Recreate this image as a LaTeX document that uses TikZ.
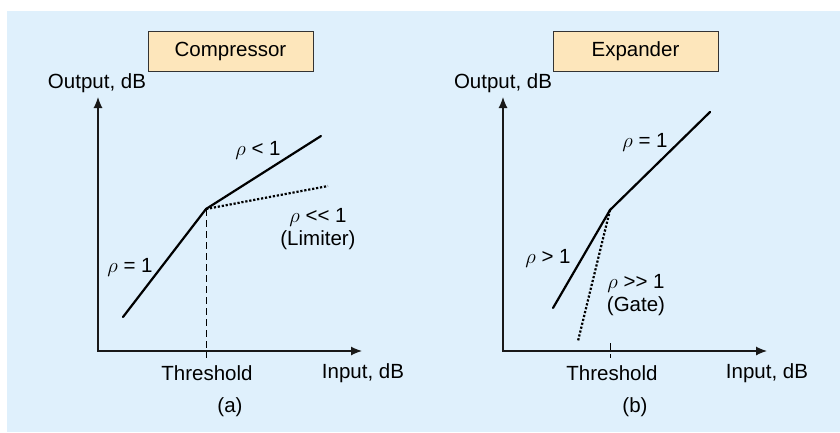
\documentclass[tikz,border=0pt]{standalone}
\usepackage{fontspec}
\setmainfont{Liberation Sans}
\usetikzlibrary{arrows.meta,positioning}
\definecolor{panelbg}{RGB}{223,240,252}
\definecolor{titlefill}{RGB}{253,230,187}
\tikzset{%
	title/.style    = {draw=black!80, fill=titlefill, line width=0.9pt, minimum width=165pt, minimum height=40pt}, % Title box
	axis/.style     = {line width=1.2pt, draw=black!90, {Latex[length=11pt,width=9pt]}-{Latex[length=11pt,width=9pt]}}, % Axes
	curve/.style    = {line width=2.2pt, line cap=round}, % Characteristic
	dots/.style     = {line width=2.2pt, dash pattern=on 2.2pt off 1.8pt}, % Dotted branch
	thresh/.style   = {line width=0.9pt, dash pattern=on 7pt off 4pt}, % Threshold mark
	lbl/.style      = {inner sep=1pt, align=center}, % Label
}
\begin{document}
\begin{tikzpicture}[x=1pt,y=-1pt,font=\fontsize{20.5}{23.5}\selectfont]
		\useasboundingbox (0,0) rectangle (840,432);
		\fill[panelbg] (7,11) rectangle (840,432);

		% (a) compressor
		\node [title] (C) at (230.5,51) {Compressor};
		\coordinate (Ya) at (98,97);
		\coordinate (Xa) at (362,351);
		\coordinate (Ka) at (206,209);
		\coordinate (La) at (123,317);
		\coordinate (Ua) at (321,136);
		\coordinate (Da) at (328,186);
		\coordinate (Ta) at (206,358);
		\draw[axis] (Ya) |- (Xa);
		\draw[curve] (La) -- (Ka) -- (Ua);
		\draw[dots] (Ka) -- (Da);
		\draw[thresh] (Ka) -- (Ta);
		\node [lbl] (oa) at (97,83) {Output, dB};
		\node [lbl] (ia) at (363,373) {Input, dB};
		\node [lbl] (ta) at (207,373) {Threshold};
		\node [lbl] (na) at (230,407) {(a)};
		\node [lbl] (r1a) at (130,267) {$\rho$ = 1};
		\node [lbl] (r2a) at (258,150) {$\rho$ < 1};
		\node [lbl] (r3a) at (318,229) {$\rho$ <{}< 1\\(Limiter)};

		% (b) expander
		\node [title] (E) at (635.5,51) {Expander};
		\coordinate (Yb) at (503,97);
		\coordinate (Xb) at (767,351);
		\coordinate (Kb) at (610,210);
		\coordinate (Lb) at (553,308);
		\coordinate (Ub) at (710,112);
		\coordinate (Db) at (578,341);
		\coordinate (Sb) at (610,343);
		\coordinate (Tb) at (610,358);
		\draw[axis] (Yb) |- (Xb);
		\draw[curve] (Lb) -- (Kb) -- (Ub);
		\draw[dots] (Kb) -- (Db);
		\draw[thresh] (Sb) -- (Tb);
		\node [lbl] (ob) at (503,83) {Output, dB};
		\node [lbl] (ib) at (767,373) {Input, dB};
		\node [lbl] (tb) at (612,373) {Threshold};
		\node [lbl] (nb) at (635,407) {(b)};
		\node [lbl] (r1b) at (645,142) {$\rho$ = 1};
		\node [lbl] (r2b) at (548,258) {$\rho$ > 1};
		\node [lbl] (r3b) at (636,295) {$\rho$ >{}> 1\\(Gate)};
\end{tikzpicture}
\end{document}
